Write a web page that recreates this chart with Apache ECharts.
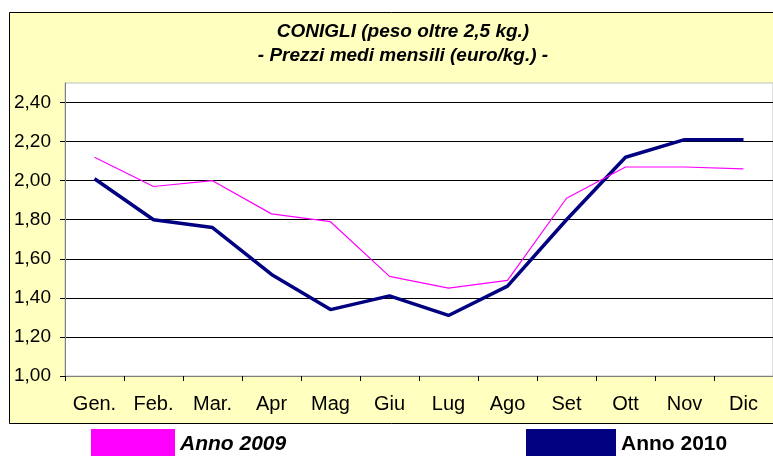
<!DOCTYPE html>
<html>
<head>
<meta charset="utf-8">
<script src="https://cdn.jsdelivr.net/npm/echarts@6/dist/echarts.min.js"></script>
<style>
html,body{margin:0;padding:0;background:#fff;}
#c{width:773px;height:456px;}
</style>
</head>
<body>
<div id="c"></div>
<script>
const months = ['Gen.', 'Feb.', 'Mar.', 'Apr', 'Mag', 'Giu', 'Lug', 'Ago', 'Set', 'Ott', 'Nov', 'Dic'];
const anno2009 = [2.12, 1.97, 2.00, 1.83, 1.79, 1.51, 1.45, 1.49, 1.91, 2.07, 2.07, 2.06];
const anno2010 = [2.01, 1.80, 1.76, 1.52, 1.34, 1.41, 1.31, 1.46, 1.80, 2.12, 2.21, 2.21];
const titleLines = ['CONIGLI (peso oltre 2,5 kg.)', '- Prezzi medi mensili (euro/kg.) -'];
const seriesNames = ['Anno 2009', 'Anno 2010'];

const chart = echarts.init(document.getElementById('c'), null, {renderer: 'canvas'});
const font = 'Liberation Sans, Arial, sans-serif';
chart.setOption({
  animation: false,
  backgroundColor: '#ffffff',
  graphic: [{
    type: 'rect', z: -10,
    shape: {x: 9.5, y: 12.5, width: 800, height: 411},
    style: {fill: '#FFFFC0', stroke: '#000000', lineWidth: 1}
  }],
  title: {
    text: titleLines.join('\n'),
    left: 403, top: 20, textAlign: 'center', padding: 0,
    textStyle: {fontFamily: font, fontSize: 19, fontWeight: 'bold', fontStyle: 'italic', color: '#000', lineHeight: 24}
  },
  legend: [{
    data: [seriesNames[0]], left: 91, top: 429, padding: 0, icon: 'rect', itemWidth: 84, itemHeight: 30,
    itemStyle: {borderWidth: 0},
    textStyle: {fontFamily: font, fontSize: 21, fontWeight: 'bold', fontStyle: 'italic', color: '#000'}
  }, {
    data: [seriesNames[1]], left: 526, top: 429, padding: 0, icon: 'rect', itemWidth: 90, itemHeight: 30,
    itemStyle: {borderWidth: 0},
    textStyle: {fontFamily: font, fontSize: 21, fontWeight: 'bold', color: '#000'}
  }],
  grid: {
    left: 65, top: 83, right: -10, bottom: 80,
    show: true, backgroundColor: '#ffffff', borderColor: '#C0C0C0', borderWidth: 1
  },
  xAxis: {
    type: 'category', data: months, boundaryGap: true,
    axisLine: {lineStyle: {color: '#808080', width: 1}},
    axisTick: {show: true, length: 5, lineStyle: {color: '#000'}},
    axisLabel: {fontFamily: font, fontSize: 20, color: '#000', margin: 18}
  },
  yAxis: {
    type: 'value', min: 1.0, max: 2.5, interval: 0.2,
    axisLine: {show: true, lineStyle: {color: '#808080', width: 1}},
    axisTick: {show: true, length: 5, lineStyle: {color: '#000'}},
    axisLabel: {fontFamily: font, fontSize: 19, color: '#000', margin: 14, showMaxLabel: false,
      formatter: v => v.toFixed(2).replace('.', ',')},
    splitLine: {show: true, showMaxLine: false, lineStyle: {color: '#000', width: 1}}
  },
  series: [{
    name: seriesNames[1], type: 'line', data: anno2010, symbol: 'none',
    color: '#000080', lineStyle: {color: '#000080', width: 3.5}
  }, {
    name: seriesNames[0], type: 'line', data: anno2009, symbol: 'none',
    color: '#FF00FF', lineStyle: {color: '#FF00FF', width: 1.2}
  }]
});
</script>
</body>
</html>
